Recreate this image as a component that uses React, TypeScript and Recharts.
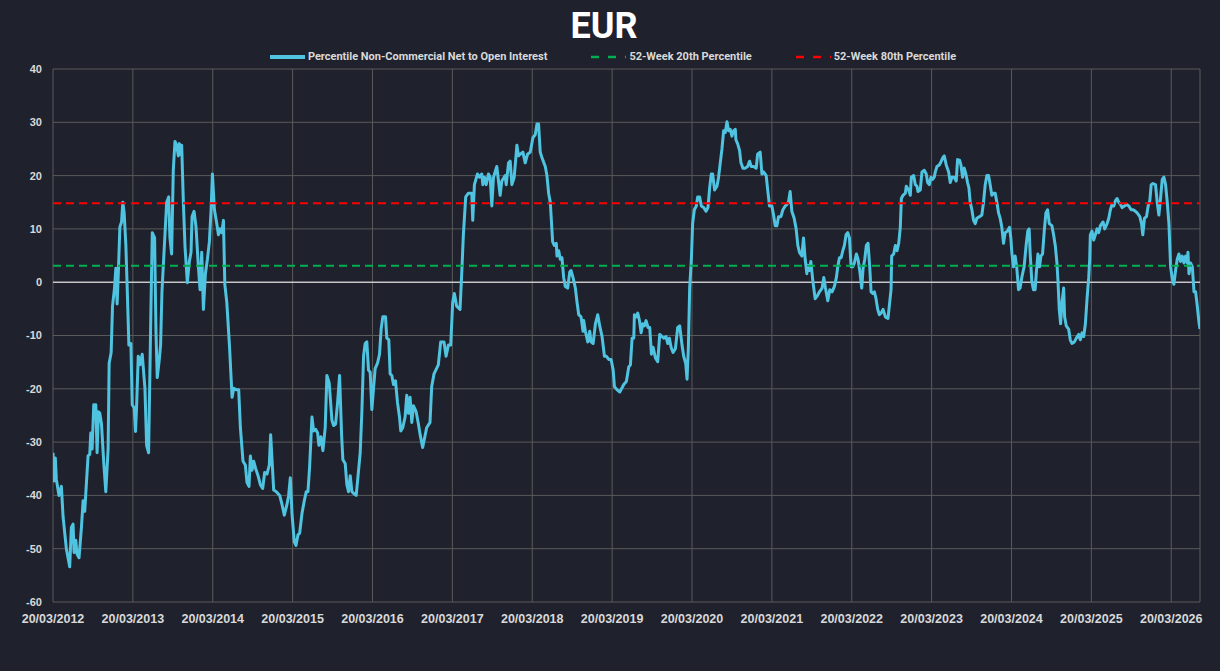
import React from 'react';
import { LineChart, Line, XAxis, YAxis, CartesianGrid, ReferenceLine } from 'recharts';

// Years elapsed since 20/03/2012 (weekly COT observations, sampled)
const weekT: number[] = [
  0, 0.013, 0.029, 0.042, 0.075, 0.105, 0.126, 0.167, 0.188, 0.209, 0.23, 0.251, 0.264, 0.285, 0.301, 0.326, 0.356, 0.377, 0.397, 0.439,
  0.46, 0.473, 0.49, 0.51, 0.536, 0.552, 0.569, 0.586, 0.607, 0.636, 0.661, 0.69, 0.703, 0.728, 0.745, 0.77, 0.787, 0.803, 0.82, 0.837,
  0.858, 0.874, 0.891, 0.912, 0.929, 0.95, 0.975, 0.992, 1.017, 1.033, 1.046, 1.067, 1.088, 1.117, 1.151, 1.172, 1.197, 1.226, 1.243, 1.272,
  1.289, 1.305, 1.331, 1.347, 1.364, 1.389, 1.423, 1.448, 1.464, 1.485, 1.506, 1.527, 1.548, 1.569, 1.582, 1.598, 1.611, 1.632, 1.653, 1.682,
  1.707, 1.728, 1.741, 1.766, 1.791, 1.82, 1.841, 1.862, 1.883, 1.908, 1.933, 1.958, 1.979, 1.996, 2.021, 2.05, 2.071, 2.092, 2.113, 2.134,
  2.151, 2.176, 2.209,
  2.242, 2.263, 2.296, 2.325, 2.346, 2.379, 2.408, 2.429, 2.454, 2.471, 2.492, 2.513, 2.538, 2.567, 2.596, 2.625, 2.65, 2.679, 2.708, 2.725,
  2.742, 2.763, 2.796, 2.838, 2.867, 2.896, 2.929, 2.95, 2.971, 2.992, 3.021, 3.042, 3.067, 3.088, 3.117, 3.146, 3.171, 3.192, 3.213, 3.242,
  3.263, 3.288, 3.313, 3.329, 3.354, 3.379, 3.408, 3.429, 3.458, 3.492, 3.513, 3.538, 3.563, 3.588, 3.613, 3.629, 3.658, 3.679, 3.7, 3.721,
  3.742, 3.771, 3.796, 3.821, 3.846, 3.867, 3.888, 3.908, 3.929, 3.95, 3.971, 3.992, 4.013, 4.033, 4.063, 4.088, 4.108, 4.129, 4.163, 4.179,
  4.204, 4.221, 4.242, 4.263, 4.288, 4.313, 4.338, 4.354, 4.379, 4.408, 4.429, 4.45, 4.471, 4.492, 4.513, 4.546, 4.575, 4.596,
  4.628, 4.678, 4.72, 4.741, 4.77, 4.824, 4.854, 4.895, 4.921, 4.95, 4.979, 5.004, 5.025, 5.054, 5.096, 5.117, 5.138, 5.167, 5.201, 5.243,
  5.255, 5.276, 5.314, 5.339, 5.368, 5.381, 5.402, 5.423, 5.452, 5.473, 5.494, 5.515, 5.556, 5.598, 5.619, 5.661, 5.674, 5.703, 5.724, 5.745,
  5.774, 5.808, 5.828, 5.849, 5.883, 5.912, 5.941, 5.975, 6.008, 6.038, 6.059, 6.079, 6.1, 6.121, 6.163, 6.184, 6.205, 6.226, 6.255, 6.276,
  6.301, 6.31, 6.331, 6.351, 6.372, 6.393, 6.414, 6.444, 6.469, 6.485, 6.51, 6.54, 6.561, 6.582, 6.611, 6.636, 6.644, 6.665, 6.695, 6.72,
  6.736, 6.762, 6.791, 6.82, 6.845, 6.874, 6.904, 6.929, 6.958, 6.987, 7.013, 7.029, 7.063, 7.096,
  7.146, 7.179, 7.208, 7.229, 7.25, 7.271, 7.279, 7.304, 7.321, 7.342, 7.363, 7.383, 7.404, 7.425, 7.45, 7.471, 7.492, 7.513, 7.542, 7.571,
  7.596, 7.625, 7.646, 7.675, 7.696, 7.717, 7.738, 7.763, 7.792, 7.821, 7.846, 7.875, 7.896, 7.921, 7.938, 7.954, 7.971, 7.992, 8.008, 8.029,
  8.054, 8.071, 8.096, 8.117, 8.146, 8.175, 8.2, 8.221, 8.242, 8.258, 8.283, 8.313, 8.333, 8.354, 8.375, 8.396, 8.417, 8.438, 8.458, 8.479,
  8.5, 8.521, 8.542, 8.55, 8.571, 8.596, 8.613, 8.638, 8.667, 8.696, 8.721, 8.742, 8.771, 8.804, 8.821, 8.854, 8.875, 8.896, 8.929, 8.95,
  8.971, 9.0, 9.021, 9.042, 9.063, 9.083, 9.113, 9.138, 9.167, 9.188, 9.208, 9.229, 9.25, 9.279, 9.304, 9.325, 9.346, 9.375, 9.396, 9.417,
  9.438, 9.45, 9.471, 9.488, 9.513, 9.542, 9.571, 9.596,
  9.629, 9.65, 9.671, 9.7, 9.725, 9.754, 9.783, 9.808, 9.825, 9.846, 9.867, 9.888, 9.908, 9.929, 9.95, 9.971, 9.992, 10.013, 10.033, 10.058,
  10.079, 10.1, 10.125, 10.142, 10.163, 10.183, 10.204, 10.225, 10.242, 10.263, 10.283, 10.304, 10.325, 10.346, 10.367, 10.392, 10.421, 10.454, 10.475, 10.492,
  10.5, 10.525, 10.546, 10.567, 10.588, 10.608, 10.621, 10.642, 10.671, 10.683, 10.713, 10.733, 10.746, 10.775, 10.796, 10.817, 10.829, 10.858, 10.879, 10.908,
  10.933, 10.95, 10.971, 10.992, 11.013, 11.033, 11.046, 11.067, 11.096, 11.121, 11.142, 11.158, 11.183, 11.213, 11.233, 11.254, 11.283, 11.308, 11.325, 11.35,
  11.367, 11.388, 11.408, 11.429, 11.45, 11.467, 11.483, 11.504, 11.525, 11.546, 11.567, 11.6, 11.629, 11.65, 11.671, 11.692, 11.713, 11.733, 11.754, 11.775,
  11.796, 11.817, 11.838, 11.858, 11.879, 11.9, 11.921, 11.95, 11.975, 11.992, 12.004, 12.025, 12.046, 12.067, 12.088, 12.108, 12.129, 12.158, 12.183, 12.204,
  12.221, 12.233, 12.254, 12.275, 12.296,
  12.31, 12.331, 12.351, 12.368, 12.389, 12.41, 12.431, 12.452, 12.473, 12.506, 12.527, 12.548, 12.569, 12.582, 12.598, 12.615, 12.632, 12.653, 12.665, 12.686,
  12.715, 12.736, 12.757, 12.787, 12.812, 12.841, 12.862, 12.883, 12.904, 12.925, 12.946, 12.967, 12.979, 12.987, 13.008, 13.029, 13.05, 13.071, 13.092, 13.113,
  13.146, 13.167, 13.197, 13.218, 13.238, 13.259, 13.28, 13.301, 13.322, 13.343, 13.364, 13.385, 13.414, 13.439, 13.469, 13.498, 13.523, 13.552, 13.573, 13.607,
  13.628, 13.644, 13.665, 13.69, 13.711, 13.732, 13.749, 13.77, 13.803, 13.824, 13.845, 13.866, 13.887, 13.908, 13.929, 13.95, 13.971, 13.992, 14.013, 14.033,
  14.054, 14.075, 14.096, 14.117, 14.138, 14.159, 14.18, 14.201, 14.209, 14.222, 14.243, 14.264, 14.285, 14.305, 14.326, 14.347, 14.36,
];

// Percentile Non-Commercial Net to Open Interest
const netPct: number[] = [
  -32, -37.3, -33, -37, -40, -38.3, -44, -50, -51.7, -53.4, -46, -45.4, -50.7, -48.4, -51, -51.7, -46, -41, -43, -32.6,
  -32.3, -28.3, -31.3, -23, -23, -32, -24.3, -24.6, -26.6, -34, -39.3, -31.3, -15.2, -13.2, -4.5, -1.1, 2.6, -4.1, 2.6, 10.3,
  11.3, 15, 13, 7, -1.1, -11.8, -11.5, -23, -23.6, -28, -23.6, -13.9, -15.5, -13.5, -19.9, -30.6, -32, -5.1, 9.3, 8.3,
  -9.2, -17.9, -14.5, -11.8, -1.8, 5.3, 15, 16, 8.3, 5.3, 21, 26.4, 25.7, 23.7, 26, 24, 25.7, 15, 6.6, -0.1,
  3.9, 5.6, 12.3, 13.3, 10.3, 2.9, -1.4, 5.6, -5.1, 1.6, 4.3, 7.6, 13.6, 20.3, 13.6, 11, 8.9, 10, 9.3, 11.6,
  -0.4, -3.8, -11.8,
  -21.6, -19.9, -20.2, -20.2, -27.3, -33.6, -34.3, -37.6, -38.3, -32.6, -35.3, -33.6, -35, -36.3, -38, -38.7, -35.7, -36, -34.3, -28.6,
  -33.3, -39, -39.3, -40, -41.7, -43.7, -41.7, -40, -36.7, -43.4, -48.7, -49.4, -47.4, -47.1, -43.4, -41, -39.3, -39.3, -34.6, -25.3,
  -27.9, -27.6, -28.3, -30.6, -29, -31.6, -27.3, -17.5, -18.9, -25.9, -26.9, -26.6, -22.6, -17.5, -28.6, -33.3, -34, -38, -39.3, -36.3,
  -39.3, -39.7, -40, -36, -32, -24.3, -13.9, -11.5, -11.2, -16.5, -16.9, -23.9, -19.9, -16.2, -15.2, -13.5, -8.8, -6.5, -6.5, -10.5,
  -10.8, -17.2, -17.5, -19.2, -18.5, -22.6, -25.3, -27.9, -27.3, -25.3, -21.2, -24.6, -21.6, -26.3, -23.2, -24.3, -26.6, -28.6,
  -31, -27.3, -26.3, -19.6, -17.2, -15.5, -11.2, -11.2, -13.9, -11.8, -11.8, -3.8, -2.1, -4.5, -5.1, 1.6, 9, 16, 16.7, 16.7,
  11.6, 18.3, 20.3, 19.7, 20.3, 18.3, 19.7, 18.3, 20.3, 19.7, 14.3, 19.7, 21.7, 16.3, 19, 20, 18.3, 22.4, 22.7, 18.3,
  19.7, 25.7, 23.7, 24, 24.4, 22.4, 24, 24.4, 27.1, 27.7, 29.7, 29.7, 24.4, 23.4, 21.7, 20, 16.7, 15, 7.6, 6.9,
  7.3, 4.9, 5.9, 4.3, 4.6, 0.9, -0.8, -1.1, 1.9, 2.2, 0.9, -1.1, -3.8, -6.1, -6.5, -9.2, -7.2, -9.2, -11.2, -9.2,
  -11.2, -11.5, -7.8, -6.1, -8.2, -10.2, -13.9, -13.9, -14.5, -14.5, -16.5, -19.6, -20.2, -20.6,
  -19.2, -18.6, -15.9, -15.5, -10.5, -10.5, -6.1, -6.5, -5.8, -7.2, -9.5, -7.8, -8.2, -7.2, -8.5, -8.5, -13.5, -12.2, -14.2, -14.9,
  -9.8, -10.2, -10.5, -10.2, -11.5, -10.5, -12.2, -13.2, -12.5, -8.5, -8.2, -11.8, -13.9, -15.2, -18.2, -12.5, -1.1, 4.3, 11, 13.6,
  14.3, 16, 16, 14.3, 14, 13.3, 14, 17.7, 20.3, 20.3, 17.3, 18, 19.7, 22.4, 25, 28.4, 28.1, 30.1, 28.4, 28.7,
  27.4, 28.4, 28.7, 26.7, 26, 24.7, 22.4, 21.4, 21.4, 21.7, 22.7, 21.7, 21.7, 21.4, 24, 24.4, 20.3, 20.7, 20, 17,
  14.3, 14.3, 12.6, 10.6, 10.6, 12.3, 12.3, 13.6, 14.3, 14.6, 15, 17, 13.3, 12, 10, 6.9, 5.6, 4.9, 8.3, 4.3,
  1.6, 3.2, 2.2, 3.9, 0.2, -3.1, -2.5, -1.8,
  -1.1, 0.9, -1.1, -3.5, -1.4, -1.8, -0.8, 0.9, 2.9, 4.6, 4.6, 5.9, 6.9, 8.9, 9.3, 8.3, 2.9, 2.9, 3.6, 5.3,
  4.3, 2.2, -1.1, 2.6, 4.3, 6.9, 7.3, 2.9, -1.8, -2.1, -1.8, -3.1, -5.1, -6.1, -5.8, -5.1, -6.5, -6.8, -3.8, -1.4,
  4.9, 5.3, 6.9, 5.9, 7.3, 10.3, 15.7, 16.3, 16.7, 18, 17.3, 16.3, 19.7, 20, 18.3, 18, 17, 17.3, 20.7, 21,
  20.3, 18.7, 18.3, 19.7, 19.3, 19.7, 20.7, 21.7, 22, 22.7, 23.4, 23.7, 22, 20.7, 18.7, 19.7, 19.7, 19, 23, 22.9,
  22, 19.7, 21.4, 20.3, 18.7, 17.7, 15, 13.6, 11.6, 11, 12, 12.3, 12.6, 15, 18.3, 20, 20, 18.3, 16.3, 16.7,
  16.7, 15, 13, 12, 10.3, 7.3, 9.3, 9.6, 10.3, 8.3, 5.6, 2.9, 4.9, 2.6, -1.4, -1.1, 0.9, 2.9, 6.9, 9.6,
  10, 5.6, 0.2, -1.4, -1.4,
  1.6, 5.3, 2.9, 4.9, 5.3, 9.6, 13, 13.6, 11, 10.6, 8.9, 6.9, 3.6, 0.2, -5.1, -7.8, -3.8, -1.1, -6.5, -8.2,
  -8.8, -10.8, -11.5, -11.2, -10.5, -9.8, -10.8, -9.5, -10.2, -7.8, -3.1, 0.9, 4.3, 8.9, 9.6, 7.9, 8.9, 10, 9.3, 10.6,
  11.3, 10, 11, 12, 13.6, 14.6, 14.3, 15.3, 15.7, 15, 14.6, 14, 14.3, 14.6, 14.3, 13.6, 13.6, 13.3, 13, 12.3,
  11, 8.9, 12, 12.3, 14.3, 15.3, 18.3, 18.5, 18.3, 15, 12.6, 15.7, 19.3, 19.7, 18.3, 15, 11, 2.9, 0.6, -0.4,
  2.2, 4.3, 5.3, 3.9, 4.9, 3.6, 4.9, 3.6, 5.6, 1.6, 3.6, 2.9, -1.8, -1.8, -4.5, -7.5, -8.8,
];

const pct20 = 3.1; // 52-Week 20th Percentile
const pct80 = 14.8; // 52-Week 80th Percentile

const xTickPos: number[] = [0, 1, 2, 3, 4, 5, 6, 7, 8, 9, 10, 11, 12, 13, 14];
const xTickLabels: string[] = [
  '20/03/2012', '20/03/2013', '20/03/2014', '20/03/2015', '20/03/2016', '20/03/2017', '20/03/2018', '20/03/2019',
  '20/03/2020', '20/03/2021', '20/03/2022', '20/03/2023', '20/03/2024', '20/03/2025', '20/03/2026',
];
const yTicks: number[] = [-60, -50, -40, -30, -20, -10, 0, 10, 20, 30, 40];

const seriesNames = [
  'Percentile Non-Commercial Net to Open Interest',
  '52-Week 20th Percentile',
  '52-Week 80th Percentile',
];

const data = weekT.map((t, i) => ({ t, v: netPct[i] }));

const BG = '#1F222D';
const GRID = '#5A5A5A';
const LINE = '#4FC3DF';
const GREEN = '#00B050';
const RED = '#FF0000';
const TXT = '#D9D9D9';

const tickStyle = { fill: TXT, fontFamily: '"Liberation Sans", Arial, sans-serif', fontWeight: 700 };

function LegendIcon({ color, dashed }: { color: string; dashed: boolean }) {
  return (
    <svg width={35} height={6} style={{ display: 'block' }}>
      <line x1={0} y1={3} x2={35} y2={3} stroke={color} strokeWidth={dashed ? 2.5 : 4} strokeDasharray={dashed ? '8 9' : undefined} />
    </svg>
  );
}

export default function App() {
  const legendItems = [
    { name: seriesNames[0], color: LINE, dashed: false },
    { name: seriesNames[1], color: GREEN, dashed: true },
    { name: seriesNames[2], color: RED, dashed: true },
  ];
  return (
    <div style={{ position: 'absolute', left: 0, top: 0, width: 1220, height: 671, background: BG, overflow: 'hidden' }}>
      <div
        style={{
          position: 'absolute', top: 8, left: 0, width: 1208, textAlign: 'center',
          fontFamily: 'Roboto, sans-serif', fontWeight: 700, fontSize: 36, lineHeight: '36px', color: '#FFFFFF',
        }}
      >
        EUR
      </div>
      <div
        style={{
          position: 'absolute', top: 51, left: 3, width: 1220, display: 'flex', justifyContent: 'center', gap: 44,
          fontFamily: 'Roboto, sans-serif', fontWeight: 700, fontSize: 11, lineHeight: '12px', color: TXT,
        }}
      >
        {legendItems.map((it) => (
          <div key={it.name} style={{ display: 'flex', alignItems: 'center' }}>
            <LegendIcon color={it.color} dashed={it.dashed} />
            <span style={{ marginLeft: 3 }}>{it.name}</span>
          </div>
        ))}
      </div>
      <LineChart width={1220} height={671} data={data} margin={{ top: 69, right: 20, bottom: 39, left: 0 }}>
        <CartesianGrid stroke={GRID} strokeWidth={1} />
        <XAxis
          dataKey="t"
          type="number"
          domain={[0, 14.36]}
          ticks={xTickPos}
          tickFormatter={(v: number) => xTickLabels[v] ?? ''}
          axisLine={false}
          tickLine={false}
          tickSize={0}
          tickMargin={12}
          height={30}
          interval={0}
          allowDataOverflow
          tick={{ ...tickStyle, fontSize: 12.5 }}
        />
        <YAxis
          type="number"
          domain={[-60, 40]}
          ticks={yTicks}
          axisLine={false}
          tickLine={false}
          tickSize={0}
          tickMargin={11}
          width={53}
          interval={0}
          tick={{ ...tickStyle, fontSize: 11 }}
        />
        <ReferenceLine y={0} stroke="#FFFFFF" strokeWidth={1} />
        <Line
          type="linear"
          dataKey="v"
          name={seriesNames[0]}
          stroke={LINE}
          strokeWidth={3}
          dot={false}
          activeDot={false}
          isAnimationActive={false}
          strokeLinejoin="round"
        />
        <ReferenceLine y={pct20} stroke={GREEN} strokeWidth={2} strokeDasharray="8 5" />
        <ReferenceLine y={pct80} stroke={RED} strokeWidth={2} strokeDasharray="8 5" />
      </LineChart>
    </div>
  );
}
